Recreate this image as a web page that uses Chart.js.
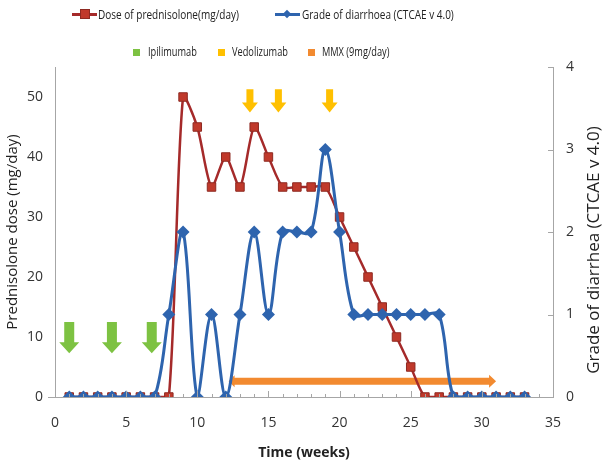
<!DOCTYPE html>
<html>
<head>
<meta charset="utf-8">
<script src="https://cdn.jsdelivr.net/npm/chart.js@4.4.1/dist/chart.umd.min.js"></script>
<style>
  body { margin: 0; background: #fff; }
  #wrap { position: relative; width: 607px; height: 465px; }
  #chart { position: absolute; left: 0; top: 0; }
  .lg { position: absolute; font-family: "Open Sans", sans-serif; font-size: 13px; color: #222; white-space: nowrap; line-height: 16px; transform: scaleX(0.77); transform-origin: left center; }
  .lg.sm { font-size: 12px; }
  .ln { position: absolute; height: 3px; }
  .mk { position: absolute; }
</style>
</head>
<body>
<div id="wrap">
  <canvas id="chart" width="607" height="465"></canvas>

  <!-- legend row 1 -->
  <div class="ln" style="left:72px; top:13px; width:25px; background:#A52A2A;"></div>
  <div class="mk" style="left:80px; top:9px; width:10px; height:10px; background:#C0392B; border:1px solid #8E2A22; box-sizing:border-box;"></div>
  <div class="lg" style="left:98px; top:6px;">Dose of prednisolone(mg/day)</div>
  <div class="ln" style="left:275px; top:13px; width:25px; background:#2E64AE;"></div>
  <div class="mk" style="left:284px; top:11px; width:6px; height:6px; background:#2E64AE; transform:rotate(45deg);"></div>
  <div class="lg" style="left:302px; top:6px;">Grade of diarrhoea (CTCAE v 4.0)</div>

  <!-- legend row 2 -->
  <div class="mk" style="left:133px; top:49px; width:7px; height:7px; background:#7DC242;"></div>
  <div class="lg sm" style="left:148px; top:44px;">Ipilimumab</div>
  <div class="mk" style="left:218px; top:49px; width:7px; height:7px; background:#FFC000;"></div>
  <div class="lg sm" style="left:232px; top:44px;">Vedolizumab</div>
  <div class="mk" style="left:308px; top:49px; width:7px; height:7px; background:#F28A30;"></div>
  <div class="lg sm" style="left:322px; top:44px;">MMX (9mg/day)</div>
</div>
<script>
// weeks of follow-up
const weeks = [1, 2, 3, 4, 5, 6, 7, 8, 9, 10, 11, 12, 13, 14, 15, 16, 17, 18, 19, 20,
               21, 22, 23, 24, 25, 26, 27, 28, 29, 30, 31, 32, 33];
// prednisolone dose (mg/day)
const prednisolone = [0, 0, 0, 0, 0, 0, 0, 0, 50, 45, 35, 40, 35, 45, 40, 35, 35, 35, 35, 30,
                      25, 20, 15, 10, 5, 0, 0, 0, 0, 0, 0, 0, 0];
// grade of diarrhoea (CTCAE v 4.0)
const diarrhoeaGrade = [0, 0, 0, 0, 0, 0, 0, 1, 2, 0, 1, 0, 1, 2, 1, 2, 2, 2, 3, 2,
                        1, 1, 1, 1, 1, 1, 1, 0, 0, 0, 0, 0, 0];
// treatment timings (weeks)
const ipilimumabWeeks = [1, 4, 6.8];
const vedolizumabWeeks = [13.7, 15.7, 19.3];
const mmxWeeks = [12.2, 31];

const xTickLabels = [0, 5, 10, 15, 20, 25, 30, 35];
const doseTickLabels = [0, 10, 20, 30, 40, 50];
const gradeTickLabels = [0, 1, 2, 3, 4];

const axisColor = '#A6A6A6';
const textColor = '#333';
const font = 'Open Sans';

function downArrow(ctx, cx, top, tip, shaftW, headW, headH, color) {
  ctx.beginPath();
  ctx.moveTo(cx - shaftW / 2, top);
  ctx.lineTo(cx + shaftW / 2, top);
  ctx.lineTo(cx + shaftW / 2, tip - headH);
  ctx.lineTo(cx + headW / 2, tip - headH);
  ctx.lineTo(cx, tip);
  ctx.lineTo(cx - headW / 2, tip - headH);
  ctx.lineTo(cx - shaftW / 2, tip - headH);
  ctx.closePath();
  ctx.fillStyle = color;
  ctx.fill();
}

const markers = {
  id: 'markers',
  beforeDatasetsDraw(chart) {
    const ctx = chart.ctx;
    const x = chart.scales.x, y2 = chart.scales.y2;
    ctx.save();
    ipilimumabWeeks.forEach(w => {
      downArrow(ctx, x.getPixelForValue(w), y2.getPixelForValue(0.91), y2.getPixelForValue(0.53), 10, 20, 11, '#7DC242');
    });
    vedolizumabWeeks.forEach(w => {
      downArrow(ctx, x.getPixelForValue(w), y2.getPixelForValue(3.73), y2.getPixelForValue(3.45), 7, 16, 10, '#FFC000');
    });
    // MMX double arrow
    const x0 = x.getPixelForValue(mmxWeeks[0]);
    const x1 = x.getPixelForValue(mmxWeeks[1]);
    const yy = y2.getPixelForValue(0.19);
    ctx.fillStyle = '#F28A30';
    ctx.beginPath();
    ctx.moveTo(x0, yy);
    ctx.lineTo(x0 + 6, yy - 6);
    ctx.lineTo(x0 + 6, yy - 3.5);
    ctx.lineTo(x1 - 7, yy - 3.5);
    ctx.lineTo(x1 - 7, yy - 6.5);
    ctx.lineTo(x1, yy);
    ctx.lineTo(x1 - 7, yy + 6.5);
    ctx.lineTo(x1 - 7, yy + 3.5);
    ctx.lineTo(x0 + 6, yy + 3.5);
    ctx.lineTo(x0 + 6, yy + 6);
    ctx.closePath();
    ctx.fill();
    ctx.restore();
  },
  afterDraw(chart) {
    const ctx = chart.ctx;
    const x = chart.scales.x, y2 = chart.scales.y2;
    const base = chart.chartArea.bottom;
    const left = chart.chartArea.left;
    const right = chart.chartArea.right;
    ctx.save();
    // inward tick marks on the x axis and the right axis
    ctx.strokeStyle = axisColor;
    ctx.lineWidth = 1;
    ctx.beginPath();
    for (let v = 0; v <= 35; v++) {
      const px = Math.round(x.getPixelForValue(v)) + 0.5;
      const len = v % 5 === 0 ? 6 : 3;
      ctx.moveTo(px, base);
      ctx.lineTo(px, base - len);
    }
    gradeTickLabels.forEach(v => {
      const py = Math.round(y2.getPixelForValue(v)) + 0.5;
      ctx.moveTo(right, py);
      ctx.lineTo(right - 5, py);
    });
    // small stub of the x axis left of the dose axis
    ctx.moveTo(left - 7, Math.round(base) + 0.5);
    ctx.lineTo(left, Math.round(base) + 0.5);
    ctx.stroke();
    // right axis title, reading bottom to top
    ctx.translate(594, 250);
    ctx.rotate(-Math.PI / 2);
    ctx.fillStyle = '#222';
    ctx.font = '17px "Open Sans"';
    ctx.textAlign = 'center';
    ctx.textBaseline = 'middle';
    ctx.fillText('Grade of diarrhea (CTCAE v 4.0)', 0, 0);
    ctx.restore();
  }
};

new Chart(document.getElementById('chart'), {
  type: 'line',
  data: {
    labels: weeks,
    datasets: [
      {
        label: 'Grade of diarrhoea (CTCAE v 4.0)',
        data: weeks.map((w, i) => ({ x: w, y: diarrhoeaGrade[i] })),
        yAxisID: 'y2',
        borderColor: '#2E64AE',
        backgroundColor: '#2E64AE',
        borderWidth: 3,
        pointStyle: 'rectRot',
        pointRadius: 6.5,
        pointBorderWidth: 0,
        tension: 0.35,
        order: 0
      },
      {
        label: 'Dose of prednisolone(mg/day)',
        data: weeks.map((w, i) => ({ x: w, y: prednisolone[i] })),
        yAxisID: 'y',
        borderColor: '#A52A2A',
        backgroundColor: '#C0392B',
        pointBorderColor: '#8E2A22',
        borderWidth: 2.5,
        pointStyle: 'rect',
        pointRadius: 6,
        pointBorderWidth: 1,
        tension: 0.25,
        order: 1
      }
    ]
  },
  options: {
    responsive: false,
    animation: false,
    layout: { padding: { top: 67, left: 0, right: 0, bottom: 0 } },
    plugins: {
      legend: { display: false },
      tooltip: { enabled: false }
    },
    scales: {
      x: {
        type: 'linear',
        min: 0,
        max: 35,
        afterBuildTicks: s => { s.ticks = xTickLabels.map(v => ({ value: v })); },
        afterFit: s => { s.height = 68; },
        grid: { drawOnChartArea: false, drawTicks: false },
        border: { color: axisColor },
        ticks: { color: textColor, font: { family: font, size: 14 }, padding: 18 },
        title: { display: true, text: 'Time (weeks)', color: '#222', font: { family: font, size: 14, weight: 'bold' }, padding: { top: 4 } }
      },
      y: {
        position: 'left',
        min: 0,
        max: 55,
        afterBuildTicks: s => { s.ticks = doseTickLabels.map(v => ({ value: v })); },
        afterFit: s => { s.width = 55; },
        grid: { drawOnChartArea: false, drawTicks: false },
        border: { color: axisColor },
        ticks: { color: textColor, font: { family: font, size: 14 }, padding: 12 },
        title: { display: true, text: 'Prednisolone dose (mg/day)', color: '#222', font: { family: font, size: 15 }, padding: { bottom: 2 } }
      },
      y2: {
        position: 'right',
        min: 0,
        max: 4,
        afterBuildTicks: s => { s.ticks = gradeTickLabels.map(v => ({ value: v })); },
        afterFit: s => { s.width = 54; },
        grid: { drawOnChartArea: false, drawTicks: false },
        border: { color: axisColor },
        ticks: { color: textColor, font: { family: font, size: 14 }, padding: 13 },
        title: { display: false }
      }
    }
  },
  plugins: [markers]
});
</script>
</body>
</html>
